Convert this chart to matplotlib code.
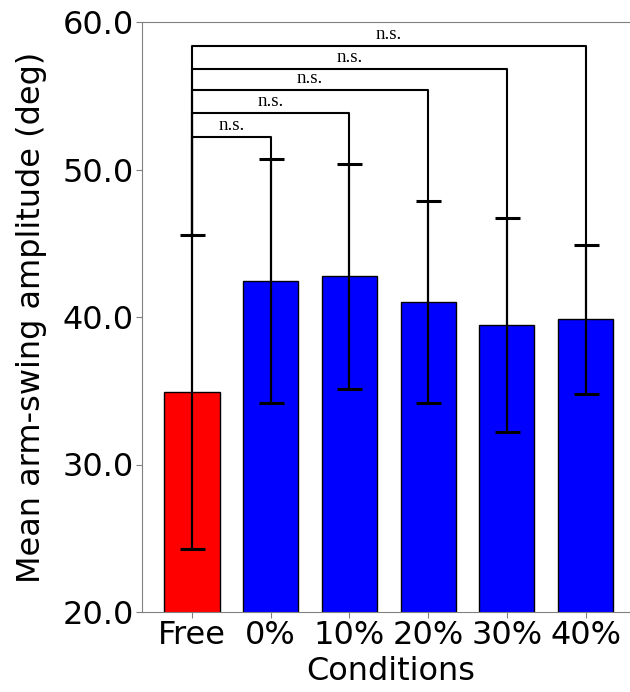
import numpy as np
import matplotlib
matplotlib.use("Agg")
import matplotlib.pyplot as plt

# Data
conditions = ["Free", "0%", "10%", "20%", "30%", "40%"]
means = [34.9, 42.45, 42.75, 41.0, 39.45, 39.85]
sds = [10.65, 8.25, 7.65, 6.85, 7.25, 5.05]
bar_colors = ["red", "blue", "blue", "blue", "blue", "blue"]
bracket_heights = [52.2, 53.8, 55.4, 56.8, 58.35]
bracket_labels = ["n.s.", "n.s.", "n.s.", "n.s.", "n.s."]

fig = plt.figure(figsize=(6.3, 6.92), dpi=100)
# axes runs slightly past the right edge, as in the cropped original
ax = fig.add_axes([142 / 630, 1 - 612 / 692, (640 - 142) / 630, (612 - 22) / 692])

x = np.arange(len(conditions))
ax.bar(x, means, width=0.7, color=bar_colors, edgecolor="black", linewidth=1.0,
       yerr=sds, capsize=9, error_kw=dict(elinewidth=1.6, capthick=2.2, ecolor="black"))

# significance brackets from Free to each condition
tops = [m + s for m, s in zip(means, sds)]
for i, (h, lab) in enumerate(zip(bracket_heights, bracket_labels), start=1):
    ax.plot([0, 0, i, i], [tops[0], h, h, tops[i]], color="black", lw=1.5)
    ax.text(i / 2, h + 0.2, lab, ha="center", va="bottom",
            fontsize=13.5, family="Liberation Serif")

ax.set_xlim(-0.635, 5.69)
ax.set_ylim(20, 60)
ax.set_yticks([20, 30, 40, 50, 60])
ax.set_yticklabels([f"{v:.1f}" for v in [20, 30, 40, 50, 60]])
ax.set_xticks(x)
ax.set_xticklabels(conditions)
ax.tick_params(labelsize=23, color="gray", length=4, pad=2)
ax.set_xlabel("Conditions", fontsize=23, labelpad=3)
ax.set_ylabel("Mean arm-swing amplitude (deg)", fontsize=23, labelpad=11)
for sp in ax.spines.values():
    sp.set_color("gray")
ax.spines["right"].set_visible(False)

fig.savefig("out.png", dpi=100)
